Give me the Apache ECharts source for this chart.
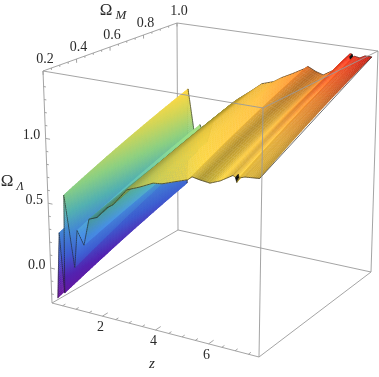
<!DOCTYPE html>
<html><head><meta charset="utf-8">
<style>html,body{margin:0;padding:0;background:#fff}#c{width:379px;height:377px}</style>
<script src="https://cdn.jsdelivr.net/npm/echarts@6/dist/echarts.min.js"></script>
</head><body><div id="c"></div>
<script>
// Surface values: ridge profiles read at the two ends of the Omega_M range
var zAtLowM    = [0.33,0.47,0.60,0.69,1.01,1.14,1.38,1.59,1.89,2.27,2.49,3.00,3.49,3.97,4.29,4.76,5.23,5.38,5.67,6.03,6.40,6.86,6.95,7.00,7.08,7.29,7.55,7.82];
var lambdaAtLowM=[-0.22,0.29,-0.166,0.59,0.05,0.34,0.238,0.446,0.473,0.564,0.596,0.73,0.773,0.822,0.83,0.865,0.899,0.926,0.915,0.906,0.937,0.995,0.985,0.95,0.985,1.00,1.005,1.01];
var zAtHighM   = [0.30,0.32,0.47,0.52,0.87,0.99,1.27,1.50,1.88,2.27,2.49,3.00,3.42,3.88,4.19,4.62,5.08,5.20,5.51,5.80,6.18,6.82,6.90,6.95,7.00,7.21,7.40,7.67];
var lambdaAtHighM=[0.136,0.63,0.152,0.965,0.436,0.675,0.537,0.72,0.82,0.907,0.949,1.035,1.11,1.143,1.187,1.235,1.291,1.312,1.28,1.26,1.31,1.465,1.465,1.441,1.45,1.443,1.465,1.465];
var unlitStrips = [22], creaseRows = [21,25];
var omegaMRange = [0.2,1.0], zRange = [0.1,7.9], lambdaRange = [-0.27,1.52];
var zTicks = [2,4,6], omegaMTicks = [0.2,0.4,0.6,0.8,1.0], lambdaTicks = [0.0,0.5,1.0];

// view: where the eight corners of the plot box fall on the page
var view = {
  lowZ_lowM_bottom:[52,303], lowZ_lowM_top:[43,71], lowZ_highM_bottom:[178,230], lowZ_highM_top:[177,23],
  highZ_lowM_bottom:[259,357], highZ_lowM_top:[263,108], highZ_highM_bottom:[371,272], highZ_highM_top:[378,51]
};
function mix(a,b,t){return [a[0]+(b[0]-a[0])*t,a[1]+(b[1]-a[1])*t];}
function project(z,m,l){
  var fz=(z-zRange[0])/(zRange[1]-zRange[0]), fm=(m-omegaMRange[0])/(omegaMRange[1]-omegaMRange[0]), fl=(l-lambdaRange[0])/(lambdaRange[1]-lambdaRange[0]);
  var v=view;
  var lowZ=mix(mix(v.lowZ_lowM_bottom,v.lowZ_lowM_top,fl),mix(v.lowZ_highM_bottom,v.lowZ_highM_top,fl),fm);
  var highZ=mix(mix(v.highZ_lowM_bottom,v.highZ_lowM_top,fl),mix(v.highZ_highM_bottom,v.highZ_highM_top,fl),fm);
  return mix(lowZ,highZ,fz);
}
var ramp=[[-0.25,[105,15,145]],[-0.05,[80,35,170]],[0.12,[60,90,200]],[0.3,[65,130,205]],[0.45,[80,170,170]],[0.62,[135,200,125]],[0.8,[200,205,85]],[0.95,[245,208,65]],[1.12,[250,190,65]],[1.28,[252,140,50]],[1.4,[255,80,38]],[1.47,[255,40,30]]];
function heightColor(l,b){
  var c=ramp[ramp.length-1][1];
  if(l<=ramp[0][0]) c=ramp[0][1];
  else for(var i=0;i<ramp.length-1;i++){ if(l<=ramp[i+1][0]){var t=(l-ramp[i][0])/(ramp[i+1][0]-ramp[i][0]);
    c=[0,1,2].map(function(k){return ramp[i][1][k]+(ramp[i+1][1][k]-ramp[i][1][k])*t;});break;}}
  return 'rgb('+c.map(function(x){return Math.round(Math.min(255,x*b));}).join(',')+')';
}
var N=zAtLowM.length, stripShade=[];
for(var i=0;i<N-1;i++){
  var s=0.5*((lambdaAtLowM[i+1]-lambdaAtLowM[i])/(zAtLowM[i+1]-zAtLowM[i]||0.01)+(lambdaAtHighM[i+1]-lambdaAtHighM[i])/(zAtHighM[i+1]-zAtHighM[i]||0.01));
  var d=(s+0.03)/0.07, e=(s-0.22)/0.08;
  var shade=1.04-0.38*Math.exp(-d*d)-(zAtLowM[i]<3.6?0.38:0)*Math.exp(-e*e);
  if(s<-0.25&&s>-1) shade=1.2;
  stripShade.push(shade);
}
function vertexShade(i){ if(i<=0) return stripShade[0]; if(i>=N-1) return stripShade[N-2]; return (stripShade[i-1]+stripShade[i])/2; }

var KM=40;
function pt(i,u,v){ // i strip, u along z, v across M 0..1
  var zn=zAtLowM[i]+(zAtLowM[i+1]-zAtLowM[i])*u, ln=lambdaAtLowM[i]+(lambdaAtLowM[i+1]-lambdaAtLowM[i])*u;
  var zf=zAtHighM[i]+(zAtHighM[i+1]-zAtHighM[i])*u, lf=lambdaAtHighM[i]+(lambdaAtHighM[i+1]-lambdaAtHighM[i])*u;
  return [zn+(zf-zn)*v, omegaMRange[0]+(omegaMRange[1]-omegaMRange[0])*v, ln+(lf-ln)*v];
}
var surfaceData=[];
for(var i=0;i<N-1;i++){
  var KZ=Math.max(4,Math.ceil(Math.abs(lambdaAtLowM[i+1]-lambdaAtLowM[i])/0.015));
  for(var a=0;a<KZ;a++){
    for(var b=KM-1;b>=0;b--){
      var p=[pt(i,a/KZ,b/KM),pt(i,(a+1)/KZ,b/KM),pt(i,(a+1)/KZ,(b+1)/KM),pt(i,a/KZ,(b+1)/KM)];
      var lavg=(p[0][2]+p[1][2]+p[2][2]+p[3][2])/4;
      var sh=vertexShade(i)+(vertexShade(i+1)-vertexShade(i))*(a+0.5)/KZ;
      var black=unlitStrips.indexOf(i)>=0&&(b<1||b>=KM-1);
      var col=black?'#000':heightColor(lavg,sh);
      surfaceData.push({value:[0,0],quad:p,col:col});
    }
    surfaceData.push({value:[0,0],line:[pt(i,a/KZ,1),pt(i,(a+1)/KZ,1)]});
    surfaceData.push({value:[0,0],line:[pt(i,a/KZ,0),pt(i,(a+1)/KZ,0)]});
  }
  if(creaseRows.indexOf(i+1)>=0) surfaceData.push({value:[0,0],crease:true,line:[pt(i,1,0),pt(i,1,1)]});
}
surfaceData.push({value:[0,0],line:[pt(N-2,1,0),pt(N-2,1,1)]});

function P(api,q){var r=project(q[0],q[1],q[2]);return api.coord(r);}
function renderSurface(params,api){
  var d=surfaceData[params.dataIndex];
  if(d.line){
    var a=P(api,d.line[0]),b=P(api,d.line[1]);
    return {type:'line',shape:{x1:a[0],y1:a[1],x2:b[0],y2:b[1]},style:{stroke:d.crease?'rgba(60,30,10,0.55)':'rgba(30,30,30,0.8)',lineWidth:d.crease?0.6:0.8}};
  }
  return {type:'polygon',shape:{points:d.quad.map(function(q){return P(api,q);})},style:{fill:d.col,stroke:d.col,lineWidth:0.4}};
}
var Zl=zRange,Ml=omegaMRange,Ll=lambdaRange;
function seg(a,b){return {a:a,b:b};}
var backLines=[
 seg([Zl[0],Ml[0],Ll[1]],[Zl[0],Ml[1],Ll[1]]),
 seg([Zl[0],Ml[1],Ll[1]],[Zl[1],Ml[1],Ll[1]]),
 seg([Zl[0],Ml[1],Ll[1]],[Zl[0],Ml[1],Ll[0]]),
 seg([Zl[0],Ml[1],Ll[0]],[Zl[1],Ml[1],Ll[0]]),
 seg([Zl[0],Ml[1],Ll[0]],[Zl[0],Ml[0],Ll[0]]),
 seg([Zl[0],Ml[0],Ll[0]],[Zl[0],Ml[0],Ll[1]]),
 seg([Zl[1],Ml[1],Ll[0]],[Zl[1],Ml[1],Ll[1]])
];
var frontLines=[
 seg([Zl[0],Ml[0],Ll[1]],[Zl[1],Ml[0],Ll[1]]),
 seg([Zl[1],Ml[0],Ll[1]],[Zl[1],Ml[1],Ll[1]]),
 seg([Zl[1],Ml[0],Ll[1]],[Zl[1],Ml[0],Ll[0]]),
 seg([Zl[0],Ml[0],Ll[0]],[Zl[1],Ml[0],Ll[0]]),
 seg([Zl[1],Ml[0],Ll[0]],[Zl[1],Ml[1],Ll[0]])
];
var tickLines=[], v;
for(v=0.5;v<7.9;v+=0.5){var maj=(Math.round(v)===v&&Math.round(v)%2===0);tickLines.push(seg([v,Ml[0],Ll[0]],[v,Ml[0]+(maj?0.035:0.018),Ll[0]]));}
for(v=0.2;v<1.001;v+=0.05){var mj=Math.abs(v*5-Math.round(v*5))<1e-6;tickLines.push(seg([Zl[0],v,Ll[1]],[Zl[0],v,Ll[1]-(mj?0.03:0.015)]));}
for(v=-0.2;v<1.5;v+=0.1){var mk=Math.abs(v*2-Math.round(v*2))<1e-6;tickLines.push(seg([Zl[0],Ml[0],v],[Zl[0]+(mk?0.16:0.08),Ml[0],v]));}
function lineRender(list){return function(params,api){
  var s=list[params.dataIndex],a=P(api,s.a),b=P(api,s.b);
  return {type:'line',shape:{x1:a[0],y1:a[1],x2:b[0],y2:b[1]},style:{stroke:'#9a9a9a',lineWidth:0.9}};
};}
function dummy(list){return list.map(function(){return [0,0];});}

var font='"Liberation Serif","Times New Roman",serif', ink='#2a2a2a';
var labels=[];
zTicks.forEach(function(t){labels.push({p:[t,Ml[0],Ll[0]],dx:-2,dy:11,text:String(t),size:14});});
omegaMTicks.forEach(function(t){labels.push({p:[Zl[0],t,Ll[1]],dx:2,dy:-12,text:t.toFixed(1),size:14});});
lambdaTicks.forEach(function(t){labels.push({p:[Zl[0],Ml[0],t],dx:-14,dy:-3,text:t.toFixed(1),size:14});});
var titles=[
 {xy:[106,11],text:'\u03A9',size:17},{xy:[121,16],text:'M',size:13,italic:true},
 {xy:[7,182],text:'\u03A9',size:17},{xy:[20,187],text:'\u039B',size:12,italic:true},
 {xy:[152,364],text:'z',size:15,italic:true}
];
function labelRender(params,api){
  var k=params.dataIndex, pos, t;
  if(k<labels.length){t=labels[k];var r=project(t.p[0],t.p[1],t.p[2]);pos=api.coord([r[0]+t.dx,r[1]+t.dy]);}
  else{t=titles[k-labels.length];pos=api.coord(t.xy);}
  return {type:'text',x:pos[0],y:pos[1],style:{text:t.text,font:(t.italic?'italic ':'')+t.size+'px '+font,fill:ink,align:'center',verticalAlign:'middle'}};
}
var common={type:'custom',coordinateSystem:'cartesian2d',clip:false,silent:true,animation:false,progressive:0};
var chart=echarts.init(document.getElementById('c'),null,{renderer:'canvas'});
chart.setOption({
  animation:false,backgroundColor:'#fff',
  grid:{left:0,right:0,top:0,bottom:0},
  xAxis:{type:'value',min:0,max:379,show:false},
  yAxis:{type:'value',min:0,max:377,inverse:true,show:false},
  series:[
   Object.assign({},common,{name:'box back',renderItem:lineRender(backLines),data:dummy(backLines),z:1}),
   Object.assign({},common,{name:'ticks',renderItem:lineRender(tickLines),data:dummy(tickLines),z:1}),
   Object.assign({},common,{name:'surface',renderItem:renderSurface,data:surfaceData,z:2}),
   Object.assign({},common,{name:'box front',renderItem:lineRender(frontLines),data:dummy(frontLines),z:3}),
   Object.assign({},common,{name:'labels',renderItem:labelRender,data:dummy(labels.concat(titles)),z:4})
  ]
});
</script></body></html>
